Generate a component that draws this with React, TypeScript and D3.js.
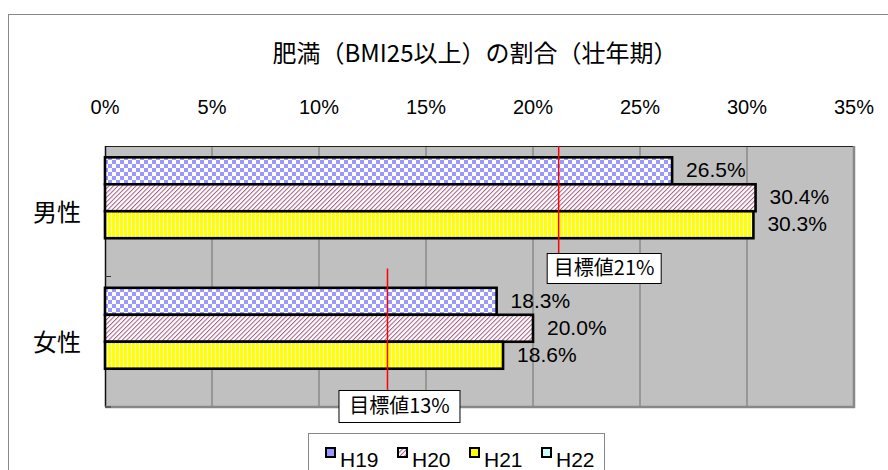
import React, { useEffect } from 'react';
import * as d3 from 'd3';

// values (percent)
const categories = ['男性', '女性'];
const seriesNames = ['H19', 'H20', 'H21', 'H22'];
const maleValues = [26.5, 30.4, 30.3, null];
const femaleValues = [18.3, 20.0, 18.6, null];
const xTicks = [0, 5, 10, 15, 20, 25, 30, 35];
const targetLabels = ['目標値21%', '目標値13%'];
const targetLineAt = [21.2, 13.2];

const W = 888;
const H = 470;
const plot = { left: 105, right: 854, top: 146, bottom: 407 };
const SANS = "'Liberation Sans', Arial, 'Noto Sans CJK JP', sans-serif";
const CJK = "'Noto Sans CJK JP', sans-serif";

const fills = ['url(#pChecker)', 'url(#pDiag)', 'url(#pVert)', '#CCFFFF'];

export default function App() {
  useEffect(() => {
    document.body.style.margin = '0';
  }, []);

  const x = d3.scaleLinear().domain([0, 35]).range([plot.left, plot.right]);
  const y = d3.scaleBand<string>().domain(categories).range([plot.top, plot.bottom]);
  const ys = d3.scaleBand<string>()
    .domain(seriesNames)
    .range([0, y.bandwidth()])
    .paddingInner(0)
    .paddingOuter(0.42);

  const rows = [maleValues, femaleValues];

  // annotation layout for the two target markers
  const anno = [
    { lineTop: 0, lineLen: 107, boxDx: -12, boxW: 114, boxH: 30 },
    { lineTop: -8, lineLen: 113.5, boxDx: -49, boxW: 121, boxH: 32 },
  ];

  return (
    <svg width={W} height={H} style={{ display: 'block', background: '#fff' }}>
      <defs>
        <pattern id="pChecker" width="8" height="8" patternUnits="userSpaceOnUse">
          <rect width="8" height="8" fill="#fff" />
          <rect width="4" height="4" fill="#9999FF" />
          <rect x="4" y="4" width="4" height="4" fill="#9999FF" />
        </pattern>
        <pattern id="pDiag" width="3.2" height="3.2" patternUnits="userSpaceOnUse" patternTransform="rotate(45)">
          <rect width="3.2" height="3.2" fill="#fff" />
          <rect width="1" height="3.2" fill="#A45A82" />
        </pattern>
        <pattern id="pVert" width="4" height="4" patternUnits="userSpaceOnUse">
          <rect width="4" height="4" fill="#FFFF00" />
          <rect x="3" width="1.2" height="4" fill="#FFFFD8" />
        </pattern>
      </defs>

      {/* outer chart frame */}
      <rect x={8.5} y={14.5} width={W + 20} height={H + 20} fill="#fff" stroke="#888" />

      {/* title */}
      <text x={475} y={55} textAnchor="middle" dominantBaseline="middle"
        fontFamily={CJK} fontSize={24} fill="#000">
        肥満（BMI25以上）の割合（壮年期）
      </text>

      {/* x tick labels on top */}
      {xTicks.map(t => (
        <text key={t} x={x(t)} y={109} textAnchor="middle" dominantBaseline="middle"
          fontFamily={SANS} fontSize={20} fill="#000">
          {t}%
        </text>
      ))}

      {/* plot area */}
      <rect x={plot.left} y={plot.top} width={plot.right - plot.left} height={plot.bottom - plot.top}
        fill="#C0C0C0" />
      {xTicks.slice(1, -1).map(t => (
        <line key={t} x1={x(t)} x2={x(t)} y1={plot.top} y2={plot.bottom} stroke="#6E6E6E" strokeWidth={1} />
      ))}
      <line x1={plot.left} x2={plot.right} y1={plot.top + 0.5} y2={plot.top + 0.5} stroke="#222" />
      <line x1={plot.left + 0.5} x2={plot.left + 0.5} y1={plot.top} y2={plot.bottom} stroke="#111" strokeWidth={1.5} />
      <line x1={plot.right} x2={plot.right} y1={plot.top} y2={plot.bottom + 1} stroke="#888" strokeWidth={2.5} />
      <line x1={plot.left} x2={plot.right + 1} y1={plot.bottom} y2={plot.bottom} stroke="#888" strokeWidth={2.5} />
      {/* category boundary ticks */}
      {[y(categories[1])!, plot.bottom].map((v, i) => (
        <line key={i} x1={plot.left} x2={plot.left + 6} y1={v} y2={v} stroke="#333" />
      ))}

      {/* bars */}
      {rows.map((vals, ci) =>
        vals.map((v, si) => {
          if (v == null) return null;
          const by = y(categories[ci])! + ys(seriesNames[si])!;
          return (
            <g key={`${ci}-${si}`}>
              <rect x={x(0)} y={by} width={x(v) - x(0)} height={ys.bandwidth()}
                fill={fills[si]} stroke="#000" strokeWidth={2.6} />
              <text x={x(v) + 14} y={by + ys.bandwidth() / 2 + 1} dominantBaseline="middle"
                fontFamily={SANS} fontSize={21} fill="#000">
                {v.toFixed(1)}%
              </text>
            </g>
          );
        })
      )}

      {/* category labels */}
      {categories.map(c => (
        <text key={c} x={57} y={y(c)! + y.bandwidth() / 2 + 3} textAnchor="middle" dominantBaseline="middle"
          fontFamily={CJK} fontSize={24} fill="#000">
          {c}
        </text>
      ))}

      {/* target markers */}
      {targetLabels.map((lbl, i) => {
        const a = anno[i];
        const lx = x(targetLineAt[i]);
        const top = y(categories[i])! + a.lineTop;
        const bTop = y(categories[i])! + a.lineLen;
        const bx = lx + a.boxDx;
        return (
          <g key={lbl}>
            <line x1={lx} x2={lx} y1={top} y2={bTop} stroke="#FF0000" strokeWidth={1.5} />
            <rect x={bx + 0.5} y={bTop + 0.5} width={a.boxW} height={a.boxH} fill="#fff" stroke="#000" />
            <text x={bx + a.boxW / 2 + 0.5} y={bTop + a.boxH / 2 + 1.5} textAnchor="middle" dominantBaseline="middle"
              fontFamily={CJK} fontSize={20} fill="#000">
              {lbl}
            </text>
          </g>
        );
      })}

      {/* legend */}
      <rect x={308.5} y={433.5} width={296} height={60} fill="#fff" stroke="#888" />
      {seriesNames.map((s, i) => {
        const lx = 326 + i * 72;
        return (
          <g key={s}>
            <rect x={lx} y={448} width={9} height={9} fill={i === 0 ? '#9999FF' : i === 2 ? '#FFFF00' : fills[i]}
              stroke="#000" strokeWidth={2} />
            <text x={lx + 14} y={461} dominantBaseline="middle" fontFamily={SANS} fontSize={21} fill="#000">
              {s}
            </text>
          </g>
        );
      })}
    </svg>
  );
}
